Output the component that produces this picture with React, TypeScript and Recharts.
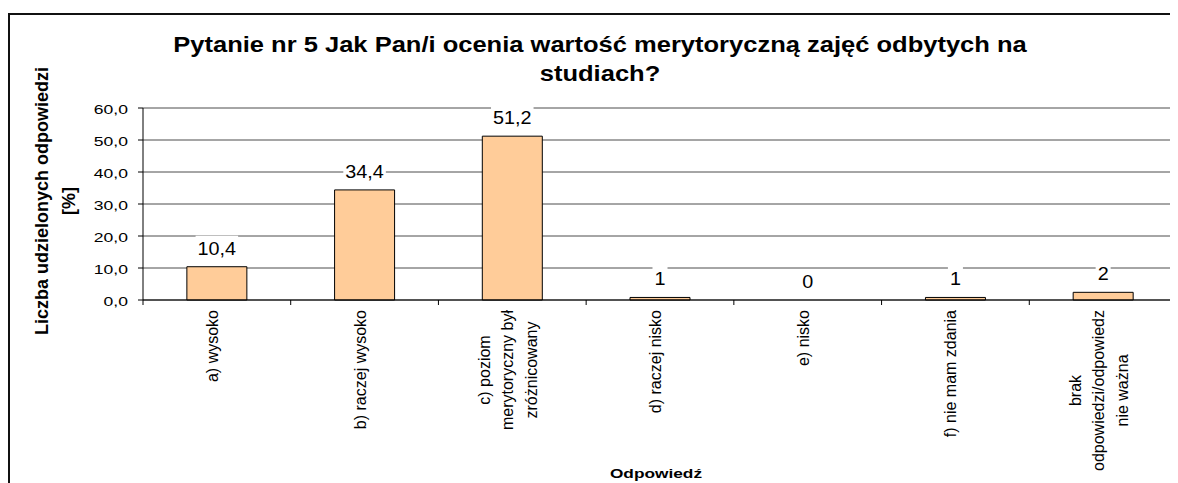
import { ComposedChart, Bar, Line, XAxis, YAxis, CartesianGrid, LabelList } from 'recharts';

const categories = [
  'a) wysoko',
  'b) raczej wysoko',
  'c) poziom\nmerytoryczny był\nzróżnicowany',
  'd) raczej nisko',
  'e) nisko',
  'f) nie mam zdania',
  'brak\nodpowiedzi/odpowiedz\nnie ważna',
];
const percents = [10.4, 34.4, 51.2, 0.8, 0, 0.8, 2.4];
const valueLabels = ['10,4', '34,4', '51,2', '1', '0', '1', '2'];
const yTicks = [0, 10, 20, 30, 40, 50, 60];

const titleLines = ['Pytanie nr 5 Jak Pan/i ocenia wartość merytoryczną zajęć odbytych na', 'studiach?'];
const yLabelLines = ['Liczba udzielonych odpowiedzi', '[%]'];
const xLabel = 'Odpowiedź';

const data = categories.map((name, i) => ({ name, value: percents[i], label: valueLabels[i] }));

const FONT = '"Liberation Sans", Arial, sans-serif';

if (typeof document !== 'undefined') document.body.style.overflow = 'hidden';

let ctx: CanvasRenderingContext2D | null = null;
function measure(text: string, font: string) {
  if (!ctx) ctx = document.createElement('canvas').getContext('2d');
  if (!ctx) return text.length * 8;
  ctx.font = font;
  return ctx.measureText(text).width;
}

const XTick = (props: any) => {
  const { x, y, payload, index, visibleTicksCount } = props;
  const lines = String(payload.value).split('\n');
  const half = payload.offset ?? 0;
  const longest = Math.max(...lines.map((l) => measure(l, `16px ${FONT}`)));
  const cy = y + 10 + longest / 2;
  return (
    <g>
      <line x1={x - half} x2={x - half} y1={y} y2={y + 5} stroke="#000" />
      {index === visibleTicksCount - 1 && <line x1={x + half} x2={x + half} y1={y} y2={y + 5} stroke="#808080" />}
      {lines.map((l, i) => (
        <text
          key={i}
          transform={`translate(${x + 1 + (i - (lines.length - 1) / 2) * 23.5},${cy}) rotate(-90)`}
          textAnchor="middle"
          fontSize={16}
          fontFamily={FONT}
          fill="#000"
        >
          {l}
        </text>
      ))}
    </g>
  );
};

const YTick = (props: any) => {
  const { x, y, payload } = props;
  return (
    <text transform={`translate(${x},${y + 5.5}) scale(1.35,1)`} textAnchor="end" fontSize={13} fontFamily={FONT} fill="#000">
      {Number(payload.value).toFixed(1).replace('.', ',')}
    </text>
  );
};

// label sits above the point (top of bar), on a white box that cuts the gridline
const ValueLabel = (props: any) => {
  const { x, y, value } = props;
  const text = String(value);
  const base = Number(y) - 12;
  const w = measure(text, `18px ${FONT}`) * 1.1 + 4;
  return (
    <g>
      <rect x={x - w / 2} y={base - 19} width={w} height={23} fill="#fff" />
      <text transform={`translate(${x},${base}) scale(1.1,1)`} textAnchor="middle" fontSize={18} fontFamily={FONT} fill="#000">
        {text}
      </text>
    </g>
  );
};

export default function App() {
  return (
    <div style={{ position: 'relative', width: 1170, height: 475 }}>
      <div
        style={{
          position: 'absolute',
          left: 0,
          top: 5,
          width: 1170,
          height: 470,
          borderLeft: '2px solid #111',
          borderTop: '2px solid #111',
          boxSizing: 'border-box',
        }}
      />
      <div style={{ position: 'absolute', left: 0, top: 0 }}>
        <ComposedChart width={1170} height={475} data={data} margin={{ top: 100, right: 1, bottom: 0, left: 75 }} barCategoryGap="29.7%">
          <CartesianGrid vertical={false} stroke="#4d4d4d" />
          <CartesianGrid
            horizontal={false}
            stroke="#808080"
            verticalCoordinatesGenerator={({ offset }: any) => [offset.left + offset.width]}
          />
          <XAxis
            dataKey="name"
            interval={0}
            height={183}
            tickSize={0}
            tickMargin={0}
            tickLine={false}
            axisLine={{ stroke: '#000' }}
            tick={<XTick />}
          />
          <YAxis
            domain={[0, 60]}
            ticks={yTicks}
            width={60}
            tickSize={5}
            tickMargin={10}
            tickLine={{ stroke: '#000' }}
            axisLine={{ stroke: '#000' }}
            tick={<YTick />}
          />
          <Bar dataKey="value" fill="#FFCC99" stroke="#000" strokeWidth={1} isAnimationActive={false} />
          <Line dataKey="value" stroke="none" dot={false} activeDot={false} isAnimationActive={false}>
            <LabelList dataKey="label" content={<ValueLabel />} />
          </Line>
        </ComposedChart>
      </div>
      <svg width={1170} height={475} style={{ position: 'absolute', left: 0, top: 0, pointerEvents: 'none' }}>
        {titleLines.map((t, i) => (
          <text
            key={i}
            transform={`translate(592,${44 + i * 29}) scale(1.16,1)`}
            textAnchor="middle"
            fontSize={22}
            fontWeight="bold"
            fontFamily={FONT}
            fill="#000"
          >
            {t}
          </text>
        ))}
        {yLabelLines.map((t, i) => (
          <text
            key={i}
            transform={`translate(${40 + i * 27},193) rotate(-90)`}
            textAnchor="middle"
            fontSize={18}
            fontWeight="bold"
            fontFamily={FONT}
            fill="#000"
          >
            {t}
          </text>
        ))}
        <text transform="translate(648,470) scale(1.33,1)" textAnchor="middle" fontSize={13} fontWeight="bold" fontFamily={FONT} fill="#000">
          {xLabel}
        </text>
      </svg>
    </div>
  );
}
